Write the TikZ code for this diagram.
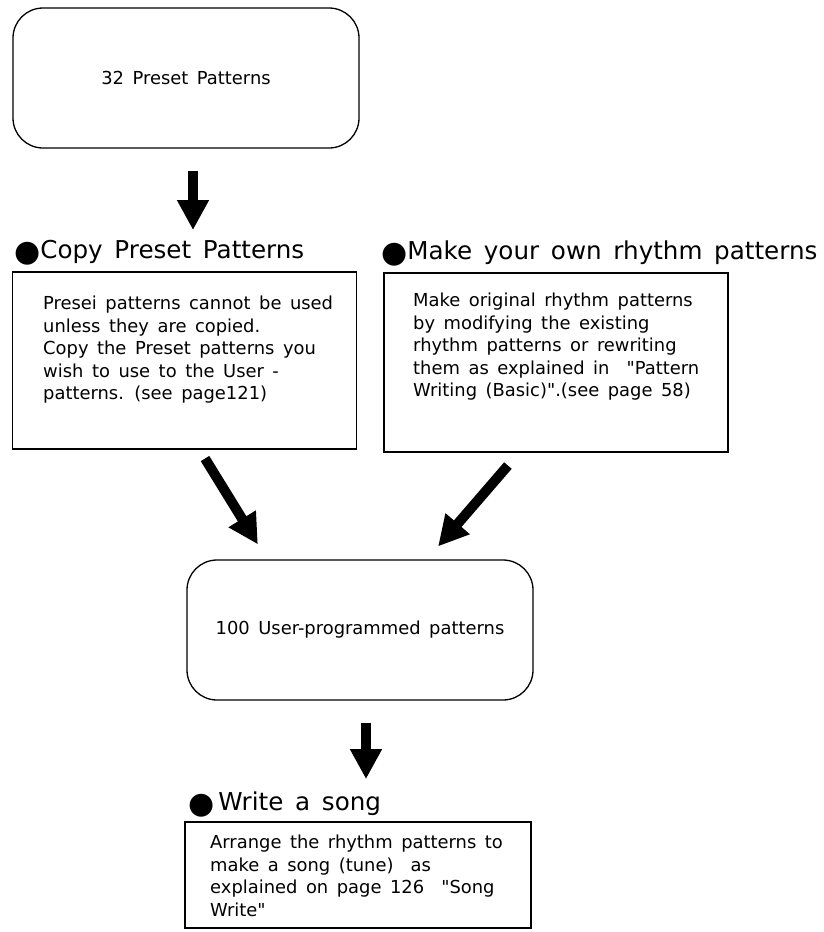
\documentclass[tikz,border=0pt]{standalone}
\usepackage{fontspec}
\setmainfont{DejaVu Sans}[WordSpace=1.5]
\usetikzlibrary{arrows.meta,positioning}
\newcommand{\headdot}{{\fontsize{30}{30}\selectfont\raisebox{-3pt}{●}}}

\begin{document}
\begin{tikzpicture}[x=1pt,y=-1pt,
  roundbox/.style={draw, line width=1.3pt, rounded corners=30pt, minimum width=346pt, minimum height=140pt, font=\fontsize{17.9}{22.5}\selectfont},
  notebox/.style={draw, line width=1.2pt, minimum width=344pt, inner sep=0pt},
  notetext/.style={anchor=north west, align=left, inner sep=0pt, font=\fontsize{17.9}{22.5}\selectfont},
  heading/.style={anchor=base west, inner sep=0pt, font=\fontsize{24.6}{24.6}\selectfont},
  bigarrow/.style={-{Triangle[width=30pt,length=30pt]}, line width=10pt}]
\useasboundingbox (0,0) rectangle (823,932);

% pattern banks
\node[roundbox] (preset) at (186,78) {32 Preset Patterns};
\node[roundbox] (user) at (360,630) {100 User-programmed patterns};

% headings
\node[heading] (copyhead) at (14,258.5) {\headdot Copy Preset Patterns};
\node[heading] (makehead) at (381,259) {\headdot Make your own rhythm patterns};
\node[heading] (songhead) at (188,810) {\headdot\,Write a song};

% note boxes
\node[notebox, minimum height=177pt] (copybox) at (184.5,360.5) {};
\node[notebox, minimum height=179pt] (makebox) at (556,362.5) {};
\node[notebox, minimum width=346pt, minimum height=106pt] (songbox) at (358,875) {};
\node[notetext] (copytext) at (43,296) {Presei patterns cannot be used\\unless they are copied.\\Copy the Preset patterns you\\wish to use to the User -\\patterns. (see page121)};
\node[notetext] (maketext) at (413,293) {Make original rhythm patterns\\by modifying the existing\\rhythm patterns or rewriting\\them as explained in \ \textquotedbl Pattern\\Writing (Basic)\textquotedbl.(see page 58)};
\node[notetext] (songtext) at (210,835) {Arrange the rhythm patterns to\\make a song (tune) \ as\\explained on page 126 \ \textquotedbl Song\\Write\textquotedbl};

% arrows
\draw[bigarrow, shorten <=22pt, shorten >=10pt] ([xshift=7pt]preset.south) -- ([xshift=7pt]preset.south |- copyhead.north);
\draw[bigarrow, shorten <=10.5pt, shorten >=17.6pt] ([xshift=15pt]copybox.south) -- ([xshift=-92.9pt]user.north);
\draw[bigarrow, shorten <=17.1pt, shorten >=17.1pt] ([xshift=-36.9pt]makebox.south) -- ([xshift=66.9pt]user.north);
\draw[bigarrow, shorten <=22pt, shorten >=12pt] ([xshift=6pt]user.south) -- ([xshift=6pt]user.south |- songhead.north);
\end{tikzpicture}
\end{document}
